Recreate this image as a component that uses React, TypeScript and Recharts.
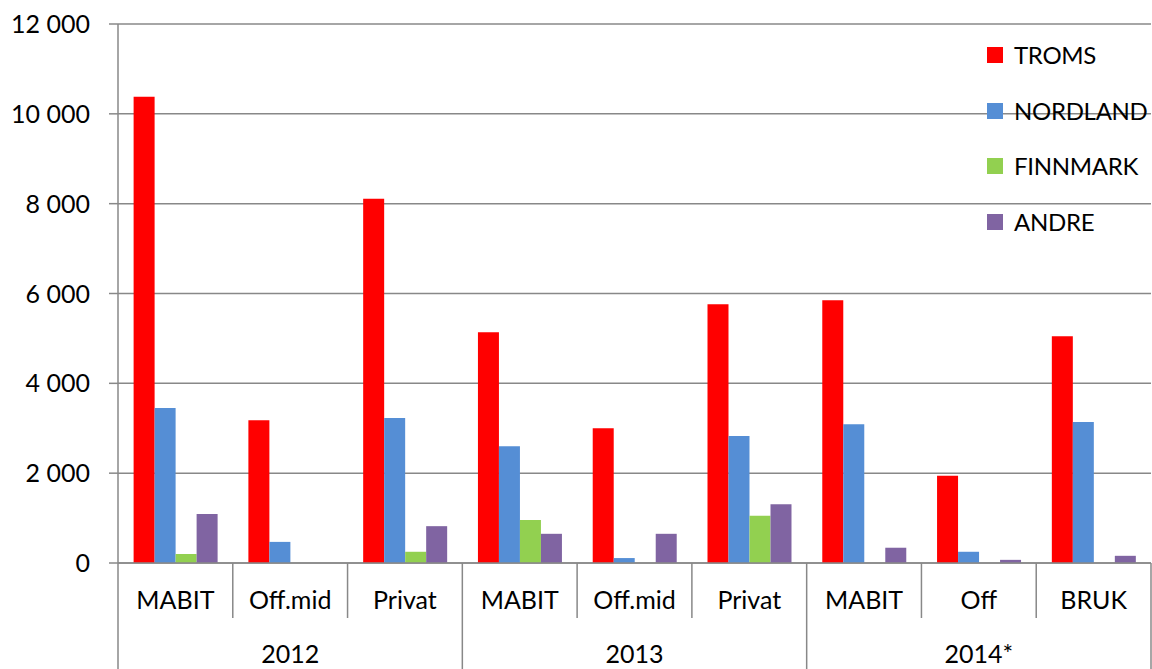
import React from 'react';
import { BarChart, Bar, XAxis, YAxis, CartesianGrid, Legend } from 'recharts';

const categories = ['MABIT', 'Off.mid', 'Privat', 'MABIT', 'Off.mid', 'Privat', 'MABIT', 'Off', 'BRUK'];
const years = ['2012', '2012', '2012', '2013', '2013', '2013', '2014*', '2014*', '2014*'];
const troms = [10380, 3180, 8110, 5140, 3000, 5760, 5850, 1940, 5050];
const nordland = [3450, 470, 3230, 2600, 110, 2830, 3090, 250, 3140];
const finnmark = [200, 0, 250, 960, 0, 1050, 0, 0, 0];
const andre = [1090, 0, 820, 650, 650, 1310, 340, 70, 160];
const yTicks = [0, 2000, 4000, 6000, 8000, 10000, 12000];

const seriesNames = ['TROMS', 'NORDLAND', 'FINNMARK', 'ANDRE'];
const seriesColors = ['#FF0000', '#558ED5', '#92D050', '#8064A2'];

const data = categories.map((c, i) => ({
  key: `${years[i]}-${c}-${i}`,
  cat: c,
  year: years[i],
  TROMS: troms[i],
  NORDLAND: nordland[i],
  FINNMARK: finnmark[i],
  ANDRE: andre[i],
}));

const W = 1152;
const H = 669;
const FONT = 'Lato, "Open Sans", sans-serif';
const FS = 25;
const GRID = '#888888';
const MARGIN = { top: 24, right: 1, bottom: 0, left: 0 };
const YW = 118;
const XH = 106;
const BAND = (W - MARGIN.left - MARGIN.right - YW) / categories.length;

const fmt = (v: number) => {
  if (v === 0) return '0';
  const s = String(v);
  return s.replace(/\B(?=(\d{3})+(?!\d))/g, ' ');
};

function YTick(props: any) {
  const { x, y, payload } = props;
  return (
    <text x={x} y={y + 9} textAnchor="end" fontFamily={FONT} fontSize={FS} fill="#000">
      {fmt(payload.value)}
    </text>
  );
}

function XTick(props: any) {
  const { x, y, payload } = props;
  const i: number = payload.index ?? props.index ?? 0;
  const half = payload.offset ? payload.offset : BAND / 2;
  const left = x - half;
  const right = x + half;
  const isYearStart = i % 3 === 0;
  const isLast = i === categories.length - 1;
  return (
    <g>
      <line x1={left} y1={y} x2={left} y2={isYearStart ? H : y + 55} stroke={GRID} strokeWidth={1.5} />
      {isLast && <line x1={right} y1={y} x2={right} y2={H} stroke={GRID} strokeWidth={1.5} />}
      <text x={x} y={y + 46} textAnchor="middle" fontFamily={FONT} fontSize={FS} fill="#000">
        {categories[i]}
      </text>
      {i % 3 === 1 && (
        <text x={x} y={y + 100} textAnchor="middle" fontFamily={FONT} fontSize={FS} fill="#000">
          {years[i]}
        </text>
      )}
    </g>
  );
}

function LegendContent() {
  return (
    <div style={{ fontFamily: FONT, fontSize: 24, letterSpacing: -0.3, color: '#000', whiteSpace: 'nowrap' }}>
      {seriesNames.map((n, i) => (
        <div key={n} style={{ display: 'flex', alignItems: 'center', height: 55.7 }}>
          <span style={{ display: 'inline-block', width: 16, height: 16, background: seriesColors[i], marginRight: 11, flex: 'none' }} />
          <span style={{ lineHeight: 1 }}>{n}</span>
        </div>
      ))}
    </div>
  );
}

export default function App() {
  return (
    <div style={{ position: 'absolute', left: 0, top: 0, width: W, height: H, background: '#fff', fontFamily: FONT }}>
      <BarChart width={W} height={H} data={data} margin={MARGIN} barCategoryGap="13.6%" barGap={0}>
        <CartesianGrid vertical={false} stroke={GRID} strokeWidth={1.5} />
        <XAxis
          dataKey="key"
          height={XH}
          interval={0}
          tickSize={0}
          tickMargin={0}
          tickLine={false}
          axisLine={{ stroke: GRID, strokeWidth: 1.5 }}
          tick={<XTick />}
        />
        <YAxis
          width={YW}
          domain={[0, 12000]}
          ticks={yTicks}
          interval={0}
          tickSize={9}
          tickMargin={19}
          tickLine={{ stroke: GRID, strokeWidth: 1.5 }}
          axisLine={{ stroke: GRID, strokeWidth: 1.5 }}
          tick={<YTick />}
        />
        <Legend
          layout="vertical"
          align="center"
          verticalAlign="middle"
          content={<LegendContent />}
          wrapperStyle={{ left: 987, top: 27, width: 163, height: 230 }}
        />
        {seriesNames.map((n, i) => (
          <Bar key={n} dataKey={n} name={n} fill={seriesColors[i]} isAnimationActive={false} />
        ))}
      </BarChart>
    </div>
  );
}
